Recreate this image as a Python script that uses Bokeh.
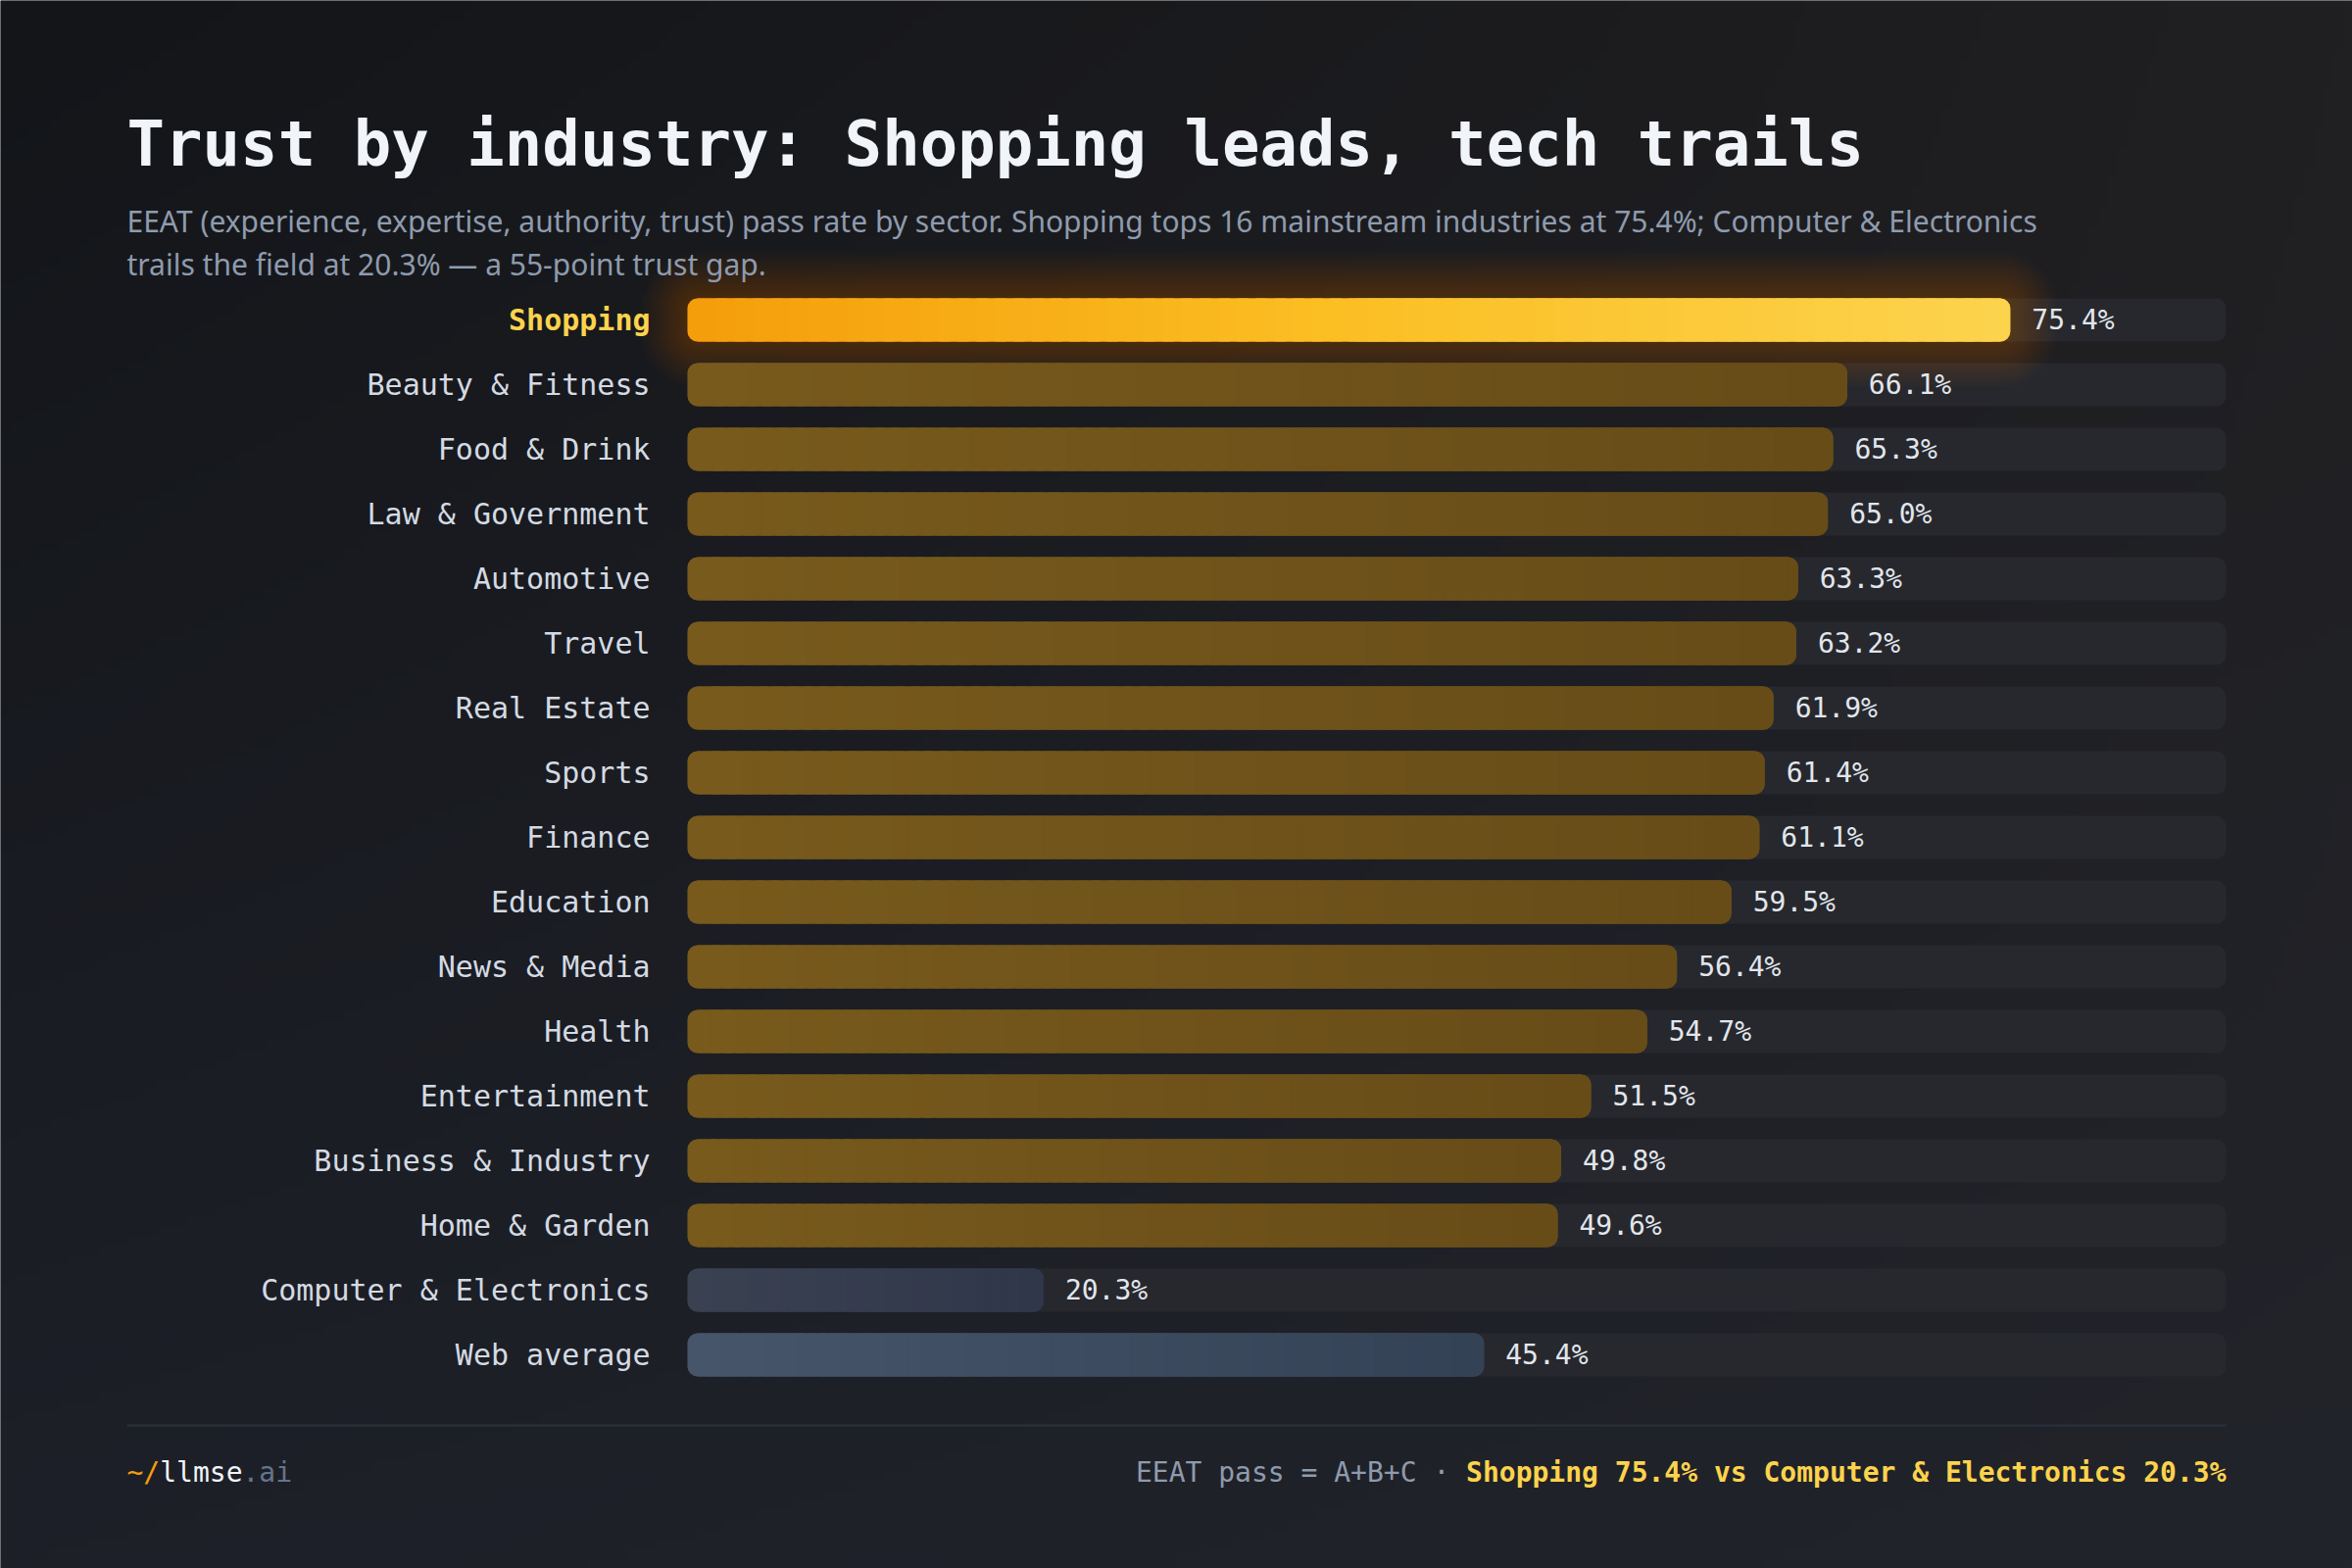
import numpy as np
from bokeh.plotting import figure
from bokeh.models import Range1d, ColumnDataSource
from bokeh.core.properties import value
from bokeh.embed import file_html
from bokeh.resources import INLINE

# ---------------- data ----------------
CATEGORIES = ["Shopping", "Beauty & Fitness", "Food & Drink", "Law & Government",
              "Automotive", "Travel", "Real Estate", "Sports", "Finance", "Education",
              "News & Media", "Health", "Entertainment", "Business & Industry",
              "Home & Garden", "Computer & Electronics", "Web average"]
VALUES = [75.4, 66.1, 65.3, 65.0, 63.3, 63.2, 61.9, 61.4, 61.1, 59.5,
          56.4, 54.7, 51.5, 49.8, 49.6, 20.3, 45.4]
HIGHLIGHT = "Shopping"
LOWEST = "Computer & Electronics"
BASELINE = "Web average"

TITLE = "Trust by industry: Shopping leads, tech trails"
SUBTITLE_1 = ("EEAT (experience, expertise, authority, trust) pass rate by sector. "
              "Shopping tops 16 mainstream industries at 75.4%; Computer & Electronics")
SUBTITLE_2 = "trails the field at 20.3% \u2014 a 55-point trust gap."
FOOTER_NOTE = "EEAT pass = A+B+C \u00b7 "
BRAND = ["~/", "llmse", ".ai"]

# ---------------- layout ----------------
W, H = 2400, 1600
BAR_LEFT_PX = 701
TRACK_RIGHT_PX = 2271
TRACK_MAX = 87.7
SX = (TRACK_RIGHT_PX - BAR_LEFT_PX) / TRACK_MAX   # px per percentage point
ROW0_PX = 326
ROW_PX = 66
BAR_H = 44 / ROW_PX
RADIUS = 10
MARGIN_L = 129

def X(px):
    return (px - BAR_LEFT_PX) / SX

def Y(py):
    return -(py - ROW0_PX) / ROW_PX

MONO = "DejaVu Sans Mono"
SANS = "Noto Sans"

p = figure(width=W, height=H,
           x_range=Range1d(X(0), X(W)), y_range=Range1d(Y(H), Y(0)),
           output_backend="svg", toolbar_location=None,
           x_axis_location=None, y_axis_location=None,
           min_border=0, min_border_left=0, min_border_right=0,
           min_border_top=0, min_border_bottom=0,
           outline_line_color=None,
           background_fill_color="#1b1d22", border_fill_color="#1b1d22")
p.grid.visible = False

# ---------------- background gradient ----------------
def hex2rgb(h):
    h = h.lstrip("#")
    return np.array([int(h[i:i + 2], 16) for i in (0, 2, 4)], dtype=float)

TL, TR, BL, BR = (hex2rgb(c) for c in ("#131519", "#201f21", "#1d2028", "#22242b"))
ny, nx = 160, 240
yy, xx = np.mgrid[0:ny, 0:nx]
u = (xx / (nx - 1))[..., None]
v = (1 - yy / (ny - 1))[..., None]   # row 0 is the bottom of the image
rgb = (1 - u) * (1 - v) * TL + u * (1 - v) * TR + (1 - u) * v * BL + u * v * BR
img = np.empty((ny, nx), dtype=np.uint32)
view = img.view(dtype=np.uint8).reshape((ny, nx, 4))
view[..., :3] = np.clip(rgb, 0, 255).astype(np.uint8)
view[..., 3] = 255
p.image_rgba(image=[img], x=X(0), y=Y(H), dw=X(W) - X(0), dh=Y(0) - Y(H))

rows = list(range(len(CATEGORIES)))
ys = [-i for i in rows]

# ---------------- tracks ----------------
p.hbar(y=ys, left=0, right=TRACK_MAX, height=BAR_H, fill_color="#26282e",
       line_color=None, border_radius=RADIUS)

# ---------------- glow behind highlight ----------------
hi = CATEGORIES.index(HIGHLIGHT)
for k in range(1, 17):
    g = 3 * k
    p.hbar(y=[ys[hi]], left=[-g / SX], right=[VALUES[hi] + g / SX],
           height=BAR_H + 2 * g / ROW_PX, fill_color="#f59e0b", fill_alpha=0.016,
           line_color=None, border_radius=int(RADIUS + g))

# ---------------- bars with horizontal gradients ----------------
def colors_for(cat):
    if cat == HIGHLIGHT:
        return ["#f59e0b", "#fbbf24", "#fcd34d"]
    if cat == LOWEST:
        return ["#3a4151", "#30374a"]
    if cat == BASELINE:
        return ["#46556a", "#344256"]
    return ["#785a1c", "#674c18"]

def interp(stops, t):
    cs = [hex2rgb(c) for c in stops]
    n = len(cs) - 1
    seg = min(int(t * n), n - 1)
    lt = t * n - seg
    c = cs[seg] * (1 - lt) + cs[seg + 1] * lt
    return "#%02x%02x%02x" % tuple(int(round(x)) for x in c)

sl_left, sl_right, sl_top, sl_bot, sl_col = [], [], [], [], []
for i, cat in enumerate(CATEGORIES):
    val = VALUES[i]
    stops = colors_for(cat)
    p.hbar(y=[ys[i]], left=[0], right=[val], height=BAR_H, fill_color=stops[0],
           line_color=None, border_radius=RADIUS)
    p.hbar(y=[ys[i]], left=[val * 0.5], right=[val], height=BAR_H, fill_color=stops[-1],
           line_color=None, border_radius=RADIUS)
    r = RADIUS / SX
    n = 70
    edges = np.linspace(r, val - r, n + 1)
    step = edges[1] - edges[0]
    for j in range(n):
        t = (j + 0.5) / n
        sl_left.append(edges[j])
        sl_right.append(min(edges[j + 1] + step * 0.6, val - r))
        sl_top.append(ys[i] + BAR_H / 2)
        sl_bot.append(ys[i] - BAR_H / 2)
        sl_col.append(interp(stops, t))
p.quad(source=ColumnDataSource(dict(left=sl_left, right=sl_right, top=sl_top,
                                    bottom=sl_bot, color=sl_col)),
       left="left", right="right", top="top", bottom="bottom",
       fill_color="color", line_color=None)

# ---------------- category labels ----------------
others = [i for i in rows if CATEGORIES[i] != HIGHLIGHT]
p.text(x=[0] * len(others), y=[ys[i] for i in others], text=[CATEGORIES[i] for i in others],
       x_offset=-38, text_align="right", text_baseline="middle",
       text_font=value(MONO), text_font_size="30px", text_color="#d4dae3")
p.text(x=[0], y=[ys[hi]], text=[HIGHLIGHT], x_offset=-38, text_align="right",
       text_baseline="middle", text_font=value(MONO), text_font_size="30px",
       text_font_style="bold", text_color="#fcd34d")

# ---------------- value labels ----------------
p.text(x=VALUES, y=ys, text=["%.1f%%" % v for v in VALUES], x_offset=22,
       text_align="left", text_baseline="middle", text_font=value(MONO),
       text_font_size="28px", text_color="#e2e6ec")

# ---------------- title & subtitle ----------------
p.text(x=[X(MARGIN_L)], y=[Y(146)], text=[TITLE], text_font=value(MONO),
       text_font_size="64px", text_font_style="bold", text_color="#f1f4f8",
       text_baseline="middle")
p.text(x=[X(MARGIN_L), X(MARGIN_L)], y=[Y(225), Y(269)], text=[SUBTITLE_1, SUBTITLE_2],
       text_font=value(SANS), text_font_size="30px", text_color="#8f9bad",
       text_baseline="middle")

# ---------------- footer ----------------
p.segment(x0=[X(MARGIN_L)], x1=[X(TRACK_RIGHT_PX)], y0=[Y(1454)], y1=[Y(1454)],
          line_color="#2b303b", line_width=2)
CH = 0.602 * 28
lo = CATEGORIES.index(LOWEST)
compare = "%s %.1f%% vs %s %.1f%%" % (HIGHLIGHT, VALUES[hi], LOWEST, VALUES[lo])
FY = Y(1502)
p.text(x=[X(TRACK_RIGHT_PX)], y=[FY], text=[compare], text_align="right",
       text_baseline="middle", text_font=value(MONO), text_font_size="28px",
       text_font_style="bold", text_color="#fcd34d")
p.text(x=[X(TRACK_RIGHT_PX - len(compare) * CH)], y=[FY], text=[FOOTER_NOTE],
       text_align="right", text_baseline="middle", text_font=value(MONO),
       text_font_size="28px", text_color="#8f9bad")
bx = [X(MARGIN_L), X(MARGIN_L + 2 * CH), X(MARGIN_L + 7 * CH)]
p.text(x=bx, y=[FY] * 3, text=BRAND, text_align="left", text_baseline="middle",
       text_font=value(MONO), text_font_size="28px",
       text_color=["#f59e0b", "#f1f4f8", "#64748b"])

open("out.html", "w").write(file_html(p, INLINE))
